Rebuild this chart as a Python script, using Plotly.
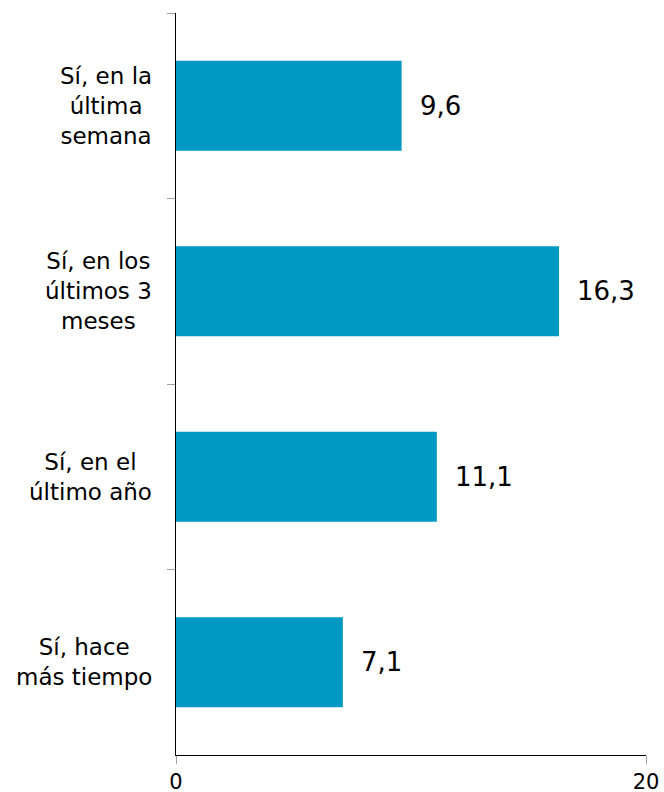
import plotly.graph_objects as go

categories = [
    "Sí, en la<br>última<br>semana",
    "Sí, en los<br>últimos 3<br>meses",
    "Sí, en el<br>último año",
    "Sí, hace<br>más tiempo",
]
values = [9.6, 16.3, 11.1, 7.1]
x_ticks = [0, 20]

FONT = "DejaVu Sans"
BAR_COLOR = "#0099C4"

fig = go.Figure(
    go.Bar(
        y=categories,
        x=values,
        orientation="h",
        marker=dict(color=BAR_COLOR, line=dict(width=0)),
        width=0.485,
        hoverinfo="skip",
    )
)

annotations = []
# value labels to the right of each bar
for cat, v in zip(categories, values):
    annotations.append(dict(
        x=v, y=cat, xref="x", yref="y",
        text=f"{v:.1f}".replace(".", ","),
        showarrow=False, xanchor="left", yanchor="middle",
        xshift=16, font=dict(family=FONT, size=26, color="#000000"),
    ))
# category labels, centred lines, to the left of the axis
for cat in categories:
    annotations.append(dict(
        x=0, y=cat, xref="paper", yref="y",
        text=cat, showarrow=False, xanchor="right", yanchor="middle",
        align="center", xshift=-22,
        font=dict(family=FONT, size=23, color="#000000"),
    ))

fig.update_layout(
    width=664, height=792,
    margin=dict(l=176, r=18, t=13, b=37, autoexpand=False),
    paper_bgcolor="white", plot_bgcolor="white",
    showlegend=False,
    font=dict(family=FONT, size=21, color="#000000"),
    annotations=annotations,
    bargap=0.515,
)

fig.update_xaxes(
    range=[0, 20], tickvals=x_ticks, ticktext=[str(t) for t in x_ticks],
    showgrid=False, zeroline=False, automargin=False,
    showline=True, linecolor="#000000", linewidth=1,
    ticks="outside", ticklen=8, tickcolor="#A0A0A0", tickwidth=1,
    tickfont=dict(family=FONT, size=21, color="#000000"),
)
fig.update_yaxes(
    autorange="reversed", type="category", automargin=False,
    showgrid=False, zeroline=False,
    showline=True, linecolor="#000000", linewidth=1,
    ticks="outside", ticklen=8, tickcolor="#A0A0A0", tickwidth=1,
    tickson="boundaries", showticklabels=False,
)

fig.write_html("out.html")
